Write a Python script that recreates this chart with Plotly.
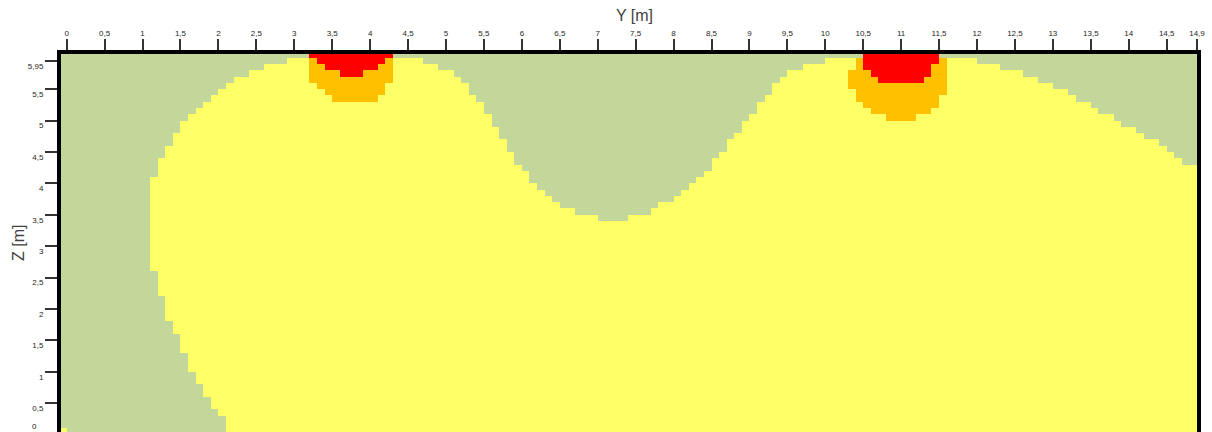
import plotly.graph_objects as go

# ---------------- grid (cell edges, metres) ----------------
# a narrow strip left of Y=0, then 0.1 m cells from 0 to 14.9
Y_EDGES = [-0.075] + [round(0.1 * i, 1) for i in range(150)]
# 0.1 m rows from 0 to 6.0, plus the thin surface row
Z_EDGES = [round(0.1 * j, 1) for j in range(61)] + [6.06]

# ---------------- data ----------------
# top of the yellow zone for each column (first value = strip left of 0); None = no yellow
YELLOW_TOP = [
    0.1,
    None, None, None, None, None, None, None, None, None, None, None,      # 0.0 - 1.0
    4.1, 4.4, 4.6, 4.8, 5.0, 5.1, 5.2, 5.3, 5.4, 5.5, 5.6,                 # 1.1 - 2.1
    5.7, 5.7, 5.8, 5.8, 5.9, 5.9, 5.9,                                     # 2.2 - 2.8
    6.0, 6.0, 6.0, 6.0, 6.0, 6.0, 6.0, 6.0, 6.0, 6.0,                      # 2.9 - 3.8
    6.0, 6.0, 6.0, 6.0, 6.0, 6.0, 6.0, 6.0,                                # 3.9 - 4.6
    5.9, 5.9, 5.8, 5.8, 5.7, 5.6, 5.4, 5.3, 5.1, 4.9,                      # 4.7 - 5.6
    4.7, 4.5, 4.3, 4.2, 4.0, 3.9, 3.8, 3.7, 3.6, 3.6,                      # 5.7 - 6.6
    3.5, 3.5, 3.5, 3.4, 3.4, 3.4, 3.4, 3.5, 3.5, 3.5,                      # 6.7 - 7.6
    3.6, 3.7, 3.7, 3.8, 3.9, 4.0, 4.1, 4.2, 4.4, 4.5,                      # 7.7 - 8.6
    4.7, 4.8, 5.0, 5.1, 5.3, 5.4, 5.6, 5.7, 5.8, 5.8,                      # 8.7 - 9.6
    5.9, 5.9, 5.9, 6.0, 6.0, 6.0, 6.0, 6.0, 6.0, 6.0,                      # 9.7 - 10.6
    6.0, 6.0, 6.0, 6.0, 6.0, 6.0, 6.0, 6.0, 6.0, 6.0,                      # 10.7 - 11.6
    6.0, 6.0, 6.0, 5.9, 5.9, 5.9, 5.8, 5.8, 5.8, 5.7,                      # 11.7 - 12.6
    5.7, 5.6, 5.6, 5.5, 5.5, 5.4, 5.3, 5.3, 5.2, 5.1,                      # 12.7 - 13.6
    5.1, 5.0, 4.9, 4.9, 4.8, 4.7, 4.7, 4.6, 4.5, 4.4,                      # 13.7 - 14.6
    4.3, 4.3,                                                              # 14.7 - 14.8
]

# bottom of the yellow zone on the left side (green below)
FLOOR_Y = [1.1, 1.2, 1.3, 1.4, 1.5, 1.6, 1.7, 1.8, 1.9, 2.0]
FLOOR_Z = [2.6, 2.2, 1.8, 1.6, 1.3, 1.0, 0.8, 0.6, 0.4, 0.3]

# hot spot 1 (around Y = 3.7 m)
HOT1_Y = [3.2, 3.3, 3.4, 3.5, 3.6, 3.7, 3.8, 3.9, 4.0, 4.1, 4.2]
HOT1_ORANGE_BOTTOM = [5.6, 5.5, 5.4, 5.3, 5.3, 5.3, 5.3, 5.3, 5.3, 5.4, 5.6]
HOT1_RED_BOTTOM = [6.0, 5.9, 5.8, 5.8, 5.7, 5.7, 5.7, 5.8, 5.8, 5.9, 6.0]

# hot spot 2 (around Y = 11 m)
HOT2_Y = [10.3, 10.4, 10.5, 10.6, 10.7, 10.8, 10.9, 11.0, 11.1, 11.2, 11.3, 11.4, 11.5]
HOT2_ORANGE_BOTTOM = [5.5, 5.3, 5.2, 5.1, 5.1, 5.0, 5.0, 5.0, 5.0, 5.1, 5.1, 5.2, 5.4]
HOT2_ORANGE_TOP = [5.8, 6.0, 5.8, 5.7, 5.6, 5.6, 5.6, 5.6, 5.6, 5.6, 5.7, 5.9, 6.0]
HOT2_RED_BOTTOM = [None, None, 5.8, 5.7, 5.6, 5.6, 5.6, 5.6, 5.6, 5.6, 5.7, 5.9, None]

Y_TICKS = [0, 0.5, 1, 1.5, 2, 2.5, 3, 3.5, 4, 4.5, 5, 5.5, 6, 6.5, 7, 7.5, 8, 8.5,
           9, 9.5, 10, 10.5, 11, 11.5, 12, 12.5, 13, 13.5, 14, 14.5, 14.9]
Z_TICKS = [0.5, 1, 1.5, 2, 2.5, 3, 3.5, 4, 4.5, 5, 5.5, 5.95]

COLORS = ["#C4D79B", "#FFFF66", "#FFC000", "#FF0000"]

# ---------------- build the zone matrix ----------------
floor = {round(y, 1): z for y, z in zip(FLOOR_Y, FLOOR_Z)}
hot = {}
for y, ob, rb in zip(HOT1_Y, HOT1_ORANGE_BOTTOM, HOT1_RED_BOTTOM):
    hot[round(y, 1)] = (ob, rb, rb)
for y, ob, ot, rb in zip(HOT2_Y, HOT2_ORANGE_BOTTOM, HOT2_ORANGE_TOP, HOT2_RED_BOTTOM):
    hot[round(y, 1)] = (ob, ot, rb)

ncol = len(Y_EDGES) - 1
nrow = len(Z_EDGES) - 1
assert len(YELLOW_TOP) == ncol
Z = []
for j in range(nrow):
    zc = (Z_EDGES[j] + Z_EDGES[j + 1]) / 2
    row = []
    for k in range(ncol):
        yk = round(Y_EDGES[k], 3)
        v = 0
        top = YELLOW_TOP[k]
        if top is not None and floor.get(round(yk, 1), 0.0) <= zc < top:
            v = 1
        if yk in hot:
            ob, ot, rb = hot[yk]
            if ob <= zc < ot:
                v = 2
            if rb is not None and zc >= rb:
                v = 3
        row.append(v)
    Z.append(row)

cs = [[0, COLORS[0]], [0.1667, COLORS[0]], [0.1667, COLORS[1]], [0.5, COLORS[1]],
      [0.5, COLORS[2]], [0.8333, COLORS[2]], [0.8333, COLORS[3]], [1, COLORS[3]]]

fig = go.Figure(go.Heatmap(
    x=Y_EDGES, y=Z_EDGES, z=Z, zmin=0, zmax=3, colorscale=cs,
    showscale=False, hoverinfo="skip", zsmooth=False,
))

tick_font = dict(family="Liberation Sans, Arial, sans-serif", size=8, color="#262626")

def fmt(v):
    return ("%g" % v).replace(".", ",")

Z_RANGE = [0.04, 6.06]

fig.update_layout(
    width=1212, height=432,
    margin=dict(l=61, r=15, t=54, b=0),
    paper_bgcolor="white", plot_bgcolor="white",
    xaxis=dict(
        side="top", range=[-0.075, 14.9], showgrid=False, zeroline=False,
        tickmode="array", tickvals=Y_TICKS, ticktext=[fmt(v) for v in Y_TICKS],
        ticks="outside", ticklen=11, tickwidth=1.5, tickcolor="#333333",
        tickfont=tick_font, showline=True, linewidth=4, linecolor="black", mirror=False,
    ),
    yaxis=dict(
        range=Z_RANGE, showgrid=False, zeroline=False,
        tickmode="array", tickvals=Z_TICKS, ticktext=[fmt(v) for v in Z_TICKS],
        ticks="outside", ticklen=12, tickwidth=1.5, tickcolor="#333333",
        tickfont=tick_font, ticklabelshift=5,
        showline=True, linewidth=4, linecolor="black", mirror=True,
    ),
    annotations=[
        dict(text="Y [m]", xref="paper", yref="paper", x=(634 - 61) / 1136, y=1,
             yshift=39, xanchor="center", yanchor="middle", showarrow=False,
             font=dict(family="Liberation Sans, Arial, sans-serif", size=16, color="#404040")),
        dict(text="Z [m]", xref="paper", yref="paper", x=(18 - 61) / 1136, y=0.5,
             xanchor="center", yanchor="middle", textangle=-90, showarrow=False,
             font=dict(family="Liberation Sans, Arial, sans-serif", size=16, color="#404040")),
        dict(text="0", xref="paper", yref="paper", x=(39 - 61) / 1136,
             y=(0 - Z_RANGE[0]) / (Z_RANGE[1] - Z_RANGE[0]), yshift=8,
             xanchor="right", yanchor="middle", showarrow=False, font=tick_font),
    ],
)

fig.write_html("out.html", config={"displayModeBar": False},
               post_script="document.body.style.margin='0';document.body.style.overflow='hidden';")
